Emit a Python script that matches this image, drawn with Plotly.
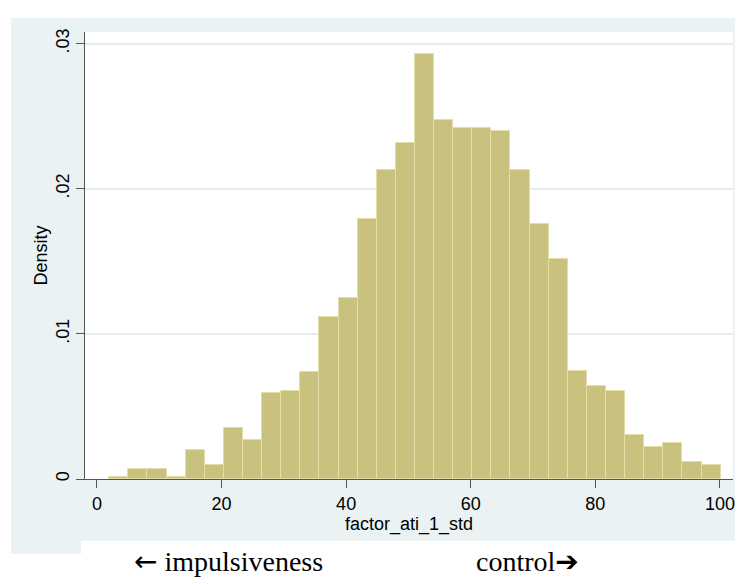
import plotly.graph_objects as go

# Histogram definition
bin_start = 1.97
bin_width = 3.067
density = [0.00016, 0.00067, 0.00067, 0.00016, 0.0020, 0.00099, 0.00354, 0.00269,
           0.00591, 0.00607, 0.0074, 0.01117, 0.0125, 0.01793, 0.0213, 0.02315,
           0.02929, 0.02471, 0.02416, 0.02416, 0.0240, 0.0213, 0.01759, 0.01519,
           0.00743, 0.00641, 0.00607, 0.00303, 0.00221, 0.0025, 0.00115, 0.00099]

x_ticks = [0, 20, 40, 60, 80, 100]
y_ticks = [0, 0.01, 0.02, 0.03]
y_ticktext = ["0", ".01", ".02", ".03"]

x_title = "factor_ati_1_std"
y_title = "Density"
ARROW_FONT = "font-family:'DejaVu Sans'"
left_note = f"<span style=\"{ARROW_FONT}\">\u2190</span> impulsiveness"
right_note = f"control<span style=\"{ARROW_FONT}\">\u2794</span>"

centers = [bin_start + bin_width * (i + 0.5) for i in range(len(density))]

BG = "#EAF2F3"
BAR = "#C9C27F"
BAR_LINE = "#E3DEA8"
AXIS = "#555555"

fig = go.Figure()
fig.add_trace(go.Bar(
    x=centers, y=density, width=[bin_width] * len(density),
    marker=dict(color=BAR, line=dict(color=BAR_LINE, width=1)),
    showlegend=False, hoverinfo="skip",
))

OFF = 8  # page body margin
W, H = 735, 569
L, R, T, B = 85 - OFF, 8, 32 - OFF, 569 - (479 - OFF)
pw, ph = W - L - R, H - T - B


def px(xp):
    # page x pixel -> paper coordinate
    return (xp - OFF - L) / pw


def py(yp):
    return (H - B - (yp - OFF)) / ph


shapes = [
    dict(type="rect", xref="paper", yref="paper", x0=px(-10), x1=px(760), y0=py(18), y1=py(-10),
         fillcolor="white", line=dict(width=0), layer="below"),
    dict(type="rect", xref="paper", yref="paper", x0=px(-10), x1=px(11), y0=py(600), y1=py(-10),
         fillcolor="white", line=dict(width=0), layer="below"),
    dict(type="rect", xref="paper", yref="paper", x0=px(-10), x1=px(760), y0=py(600), y1=py(553.7),
         fillcolor="white", line=dict(width=0), layer="below"),
    dict(type="rect", xref="paper", yref="paper", x0=px(81), x1=px(760), y0=py(600), y1=py(540.7),
         fillcolor="white", line=dict(width=0), layer="below"),
]

font = dict(family="Liberation Sans, Arial, sans-serif", size=18, color="#000000")
serif = dict(family="Liberation Serif, Times New Roman, serif", size=28, color="#000")

fig.update_layout(
    width=W, height=H,
    margin=dict(l=L, r=R, t=T, b=B, pad=0),
    paper_bgcolor=BG, plot_bgcolor="white",
    bargap=0, font=font, shapes=shapes,
    xaxis=dict(range=[-1.92, 102.1], tickvals=x_ticks, ticks="outside", ticklen=8,
               tickcolor=AXIS, tickwidth=1, showline=True, linecolor=AXIS, linewidth=1,
               showgrid=False, zeroline=False, tickfont=font,
               title=dict(text=x_title, font=font, standoff=0)),
    yaxis=dict(range=[0, 0.0308], tickvals=y_ticks, ticktext=y_ticktext, tickangle=-90,
               ticks="outside", ticklen=8, tickcolor=AXIS, tickwidth=1,
               showline=True, linecolor=AXIS, linewidth=1,
               showgrid=True, gridcolor="#E4ECEF", gridwidth=1.5, zeroline=False,
               tickfont=font, title=dict(text=y_title, font=font, standoff=0)),
    annotations=[
        dict(text=left_note, xref="paper", yref="paper", x=px(132), y=py(561),
             xanchor="left", yanchor="middle", showarrow=False, font=serif),
        dict(text=right_note, xref="paper", yref="paper", x=px(475), y=py(561),
             xanchor="left", yanchor="middle", showarrow=False, font=serif),
    ],
)

fig.write_html("out.html")
